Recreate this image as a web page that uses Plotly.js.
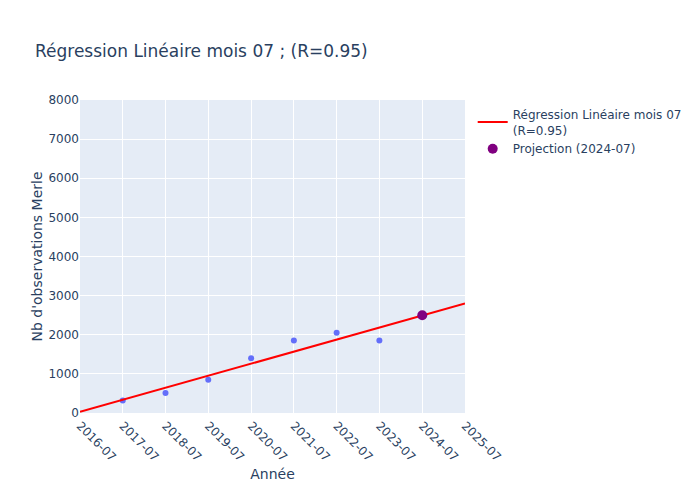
<!DOCTYPE html>
<html>
<head>
<meta charset="utf-8">
<script src="https://cdn.plot.ly/plotly-3.0.1.min.js"></script>
</head>
<body style="margin:0">
<div id="plot" style="width:700px;height:500px"></div>
<script>
// observed values, month 07 of each year
const obsDates = ["2017-07-01", "2018-07-01", "2019-07-01", "2020-07-01", "2021-07-01", "2022-07-01", "2023-07-01"]
const obsValues = [320, 510, 850, 1400, 1850, 2050, 1850]

// regression line end points
const regDates = ["2016-07-01", "2025-07-01"]
const regValues = [30, 2800]

const projDates = ["2024-07-01"]
const projValues = [2500]

const data = [
    { x: obsDates, y: obsValues, mode: 'markers', type: 'scatter', marker: { color: '#636efa', size: 6 }, showlegend: false },
    { x: regDates, y: regValues, mode: 'lines', type: 'scatter', line: { color: 'red', width: 2 }, name: 'Régression Linéaire mois 07<br>(R=0.95)' },
    { x: projDates, y: projValues, mode: 'markers', type: 'scatter', marker: { color: 'purple', size: 10 }, name: 'Projection (2024-07)' },
]

const layout = {
    font: { family: 'DejaVu Sans, sans-serif', color: '#2a3f5f', size: 12 },
    paper_bgcolor: 'white',
    plot_bgcolor: '#E5ECF6',
    title: { text: 'Régression Linéaire mois 07 ; (R=0.95)', x: 0.05, y: 0.91, font: { size: 17 } },
    margin: { l: 80, r: 235, t: 100, b: 87 },
    xaxis: {
        title: { text: 'Année' },
        type: 'date',
        range: ["2016-07-01", "2025-07-01"],
        tick0: "2016-07-01",
        dtick: "M12",
        tickformat: "%Y-%m",
        tickangle: 45,
        gridcolor: 'white',
        linecolor: 'white',
        zeroline: false,
    },
    yaxis: {
        title: { text: "Nb d'observations Merle" },
        range: [0, 8000],
        dtick: 1000,
        gridcolor: 'white',
        zerolinecolor: 'white',
        zerolinewidth: 2,
    },
    legend: { x: 1.02, y: 1 },
}

Plotly.newPlot("plot", data, layout, { displayModeBar: false })
</script>
</body>
</html>
